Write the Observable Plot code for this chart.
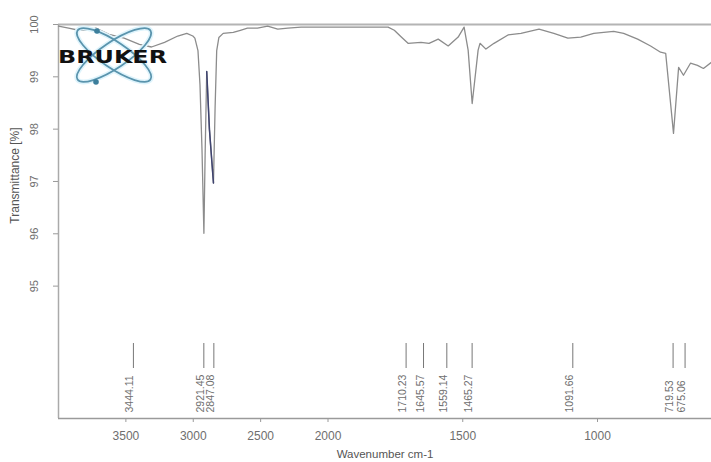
<!DOCTYPE html>
<html><head><meta charset="utf-8">
<script src="https://cdn.jsdelivr.net/npm/d3@7"></script>
<script src="https://cdn.jsdelivr.net/npm/@observablehq/plot@0.6"></script>
<style>body{margin:0;background:#fff}#chart{width:711px;height:462px}</style>
</head><body><div id="chart"></div>
<script>
const wavenumber = [4000,3925,3850,3775,3723,3625,3513,3400,3310,3213,3115,3048,3003,2988,2965,2950,2935,2921,2912,2900,2880,2850,2838,2826,2810,2778,2703,2650,2598,2523,2448,2373,2298,2200,2103,1988,1925,1851,1777,1754,1728,1703,1655,1625,1591,1554,1517,1495,1480,1465,1443,1436,1414,1384,1332,1284,1217,1162,1110,1062,1014,940,903,851,803,766,747,718,699,681,655,629,607,577];
const transmittance = [99.97,99.93,99.89,99.89,99.93,99.81,99.74,99.62,99.57,99.66,99.78,99.83,99.78,99.74,99.5,98.85,97.6,96.01,97.5,99.1,98.0,96.97,98.4,99.5,99.75,99.83,99.85,99.89,99.93,99.93,99.97,99.91,99.93,99.95,99.95,99.95,99.95,99.95,99.95,99.89,99.76,99.64,99.66,99.64,99.72,99.59,99.76,99.95,99.51,98.49,99.51,99.64,99.53,99.64,99.80,99.83,99.91,99.83,99.74,99.76,99.83,99.87,99.83,99.72,99.59,99.47,99.45,97.92,99.18,99.03,99.26,99.22,99.16,99.28];
const peakPositions = [3444.11,2921.45,2847.08,1710.23,1645.57,1559.14,1465.27,1091.66,719.53,675.06];
const peakLabels = ["3444.11","2921.45","2847.08","1710.23","1645.57","1559.14","1465.27","1091.66","719.53","675.06"];
const xTicks = [3500,3000,2500,2000,1500,1000];
const yTicks = [100,99,98,97,96,95];
const xLabel = "Wavenumber cm-1";
const yLabel = "Transmittance [%]";

// OPUS-style axis: the region above 2000 cm-1 is drawn at half scale
const BREAK = 2000;
const compress = v => v > BREAK ? BREAK + (v - BREAK) / 2 : v;

const spectrum = wavenumber.map((w, i) => ({w, t: transmittance[i]}));
const darkSegment = spectrum.filter(d => d.w <= 2900 && d.w >= 2850);
const peaks = peakPositions.map((p, i) => ({p, label: peakLabels[i]}));
const yMin = 92.47;
const frameGray = "#aaaaaa";
const textGray = "#6e6e6e";

const plot = Plot.plot({
  width: 711, height: 462,
  marginLeft: 58, marginRight: 0, marginTop: 24, marginBottom: 44,
  x: {domain: [compress(4000), compress(577)], axis: null},
  y: {domain: [yMin, 100], axis: null},
  style: {fontFamily: "'Liberation Sans', Arial, sans-serif", background: "white", overflow: "visible"},
  marks: [
    Plot.ruleY([100], {stroke: "#b4b4b4", strokeWidth: 2}),
    Plot.ruleX([4000], {x: d => compress(d), stroke: frameGray, strokeWidth: 1.5}),
    Plot.ruleY([yMin], {stroke: "#9a9a9a", strokeWidth: 1.5}),
    Plot.ruleX(xTicks, {x: d => compress(d), stroke: "#9a9a9a", insetTop: 394, insetBottom: -4}),
    Plot.ruleY(yTicks, {y: d => d, stroke: "#9a9a9a", insetLeft: -5, insetRight: 653}),
    Plot.text(xTicks, {x: d => compress(d), text: d => String(d), frameAnchor: "bottom", dy: 21, fontSize: 12, fill: textGray}),
    Plot.text(yTicks, {y: d => d, text: d => String(d), frameAnchor: "left", textAnchor: "middle", dx: -24, rotate: -90, fontSize: 11, fill: textGray}),
    Plot.text([xLabel], {text: d => d, frameAnchor: "bottom", dy: 39, fontSize: 11.5, fill: "#555"}),
    Plot.text([yLabel], {text: d => d, frameAnchor: "left", textAnchor: "middle", dx: -43, dy: -46, rotate: -90, fontSize: 12, fill: "#555"}),
    Plot.ruleX(peaks, {x: d => compress(d.p), stroke: "#777", strokeWidth: 1, insetTop: 319, insetBottom: 50}),
    Plot.text(peaks, {x: d => compress(d.p), text: "label", frameAnchor: "bottom", dy: -6, rotate: -90, textAnchor: "start", fontSize: 10.5, fill: textGray}),
    Plot.line(spectrum, {x: d => compress(d.w), y: "t", stroke: "#8c8c8c", strokeWidth: 1.3}),
    Plot.line(darkSegment, {x: d => compress(d.w), y: "t", stroke: "#3f4470", strokeWidth: 1.5})
  ]
});
document.getElementById("chart").appendChild(plot);

// Bruker logo decoration
const svg = d3.select(plot);
const logo = svg.append("g").attr("transform", "translate(114,55)");
[34, -34].forEach(a => logo.append("ellipse").attr("rx", 44).attr("ry", 13)
  .attr("transform", `rotate(${a})`).attr("fill", "none").attr("stroke", "#dff4fc").attr("stroke-width", 5));
[34, -34].forEach(a => logo.append("ellipse").attr("rx", 44).attr("ry", 13)
  .attr("transform", `rotate(${a})`).attr("fill", "none").attr("stroke", "#5a94ad").attr("stroke-width", 1.8));
[[-17, -24], [-18, 27]].forEach(([cx, cy]) => logo.append("circle").attr("cx", cx).attr("cy", cy).attr("r", 2.8).attr("fill", "#3d7f9c"));
svg.append("text").attr("x", 58).attr("y", 63).text("BRUKER")
  .attr("text-anchor", "start")
  .attr("font-family", "'DejaVu Sans', sans-serif").attr("font-weight", 900).attr("font-size", 18)
  .attr("textLength", 109).attr("lengthAdjust", "spacingAndGlyphs").attr("fill", "#111");
</script>
</body></html>
